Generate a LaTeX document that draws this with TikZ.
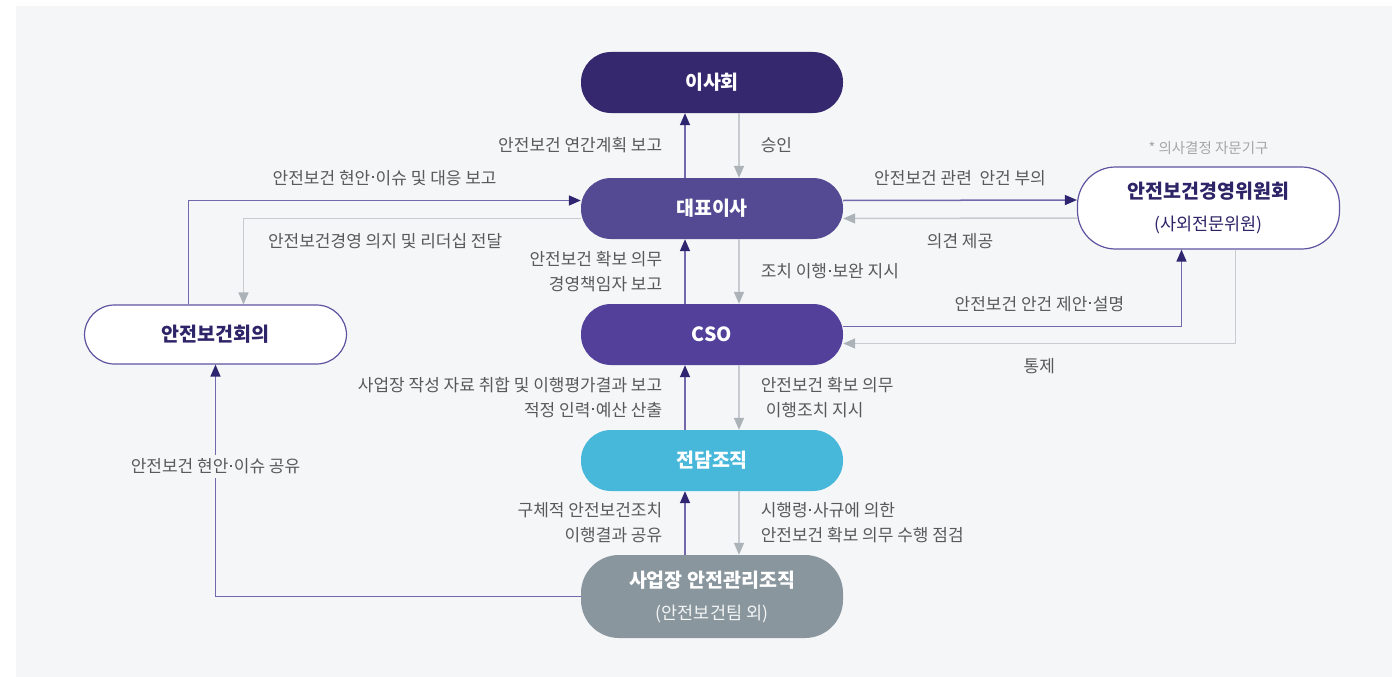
\documentclass[tikz,border=0pt]{standalone}
\usepackage{fontspec}
\setmainfont{Noto Sans CJK KR}
\usetikzlibrary{arrows.meta, positioning, calc}
\definecolor{panelgray}{HTML}{F5F6F8}
\definecolor{boardc}{HTML}{35286F}
\definecolor{ceoc}{HTML}{534A93}
\definecolor{csoc}{HTML}{52409A}
\definecolor{teamc}{HTML}{47B8DA}
\definecolor{sitec}{HTML}{8A969E}
\definecolor{linepurple}{HTML}{7468AD}
\definecolor{headpurple}{HTML}{2E2570}
\definecolor{linegray}{HTML}{C6CCD1}
\definecolor{headgray}{HTML}{ABB3B9}
\definecolor{borderpurple}{HTML}{5F53A0}
\definecolor{titlepurple}{HTML}{2E2468}
\definecolor{labelgray}{HTML}{595959}
\definecolor{notegray}{HTML}{A6A6A6}
\newcommand{\subline}{\fontsize{17.5}{32}\selectfont\mdseries}
\newcommand{\md}{\kern0.1em\raisebox{0.36em}{\rule{0.12em}{0.12em}}\kern0.1em}

\begin{document}
\begin{tikzpicture}[x=1pt, y=-1pt,
    stage/.style={rectangle, rounded corners=30pt, minimum width=262pt,
                  minimum height=61pt, inner sep=0pt, align=center,
                  text=white, font=\fontsize{19.5}{32}\selectfont\bfseries},
    side/.style={stage, fill=white, draw=borderpurple, line width=1.2pt,
                 text=titlepurple},
    rep/.style={draw=linepurple, line width=1.5pt,
                -{Triangle[length=12pt, width=10pt, color=headpurple]}},
    ord/.style={draw=linegray, line width=1.5pt,
                -{Triangle[length=12pt, width=10pt, color=headgray]}},
    lbl/.style={font=\fontsize{17}{25}\selectfont, text=labelgray, inner sep=0pt}
]
\useasboundingbox (0,0) rectangle (1392,677);
\fill[white] (0,0) rectangle (1392,677);
\fill[panelgray] (16,6) rectangle (1392,677);

% main chain
\node[stage, fill=boardc] (board) at (712,82.5) {이사회};
\node[stage, fill=ceoc]   (ceo)   at (712,208.5) {대표이사};
\node[stage, fill=csoc]   (cso)   at (712,334.5) {CSO};
\node[stage, fill=teamc]  (team)  at (712,460.5) {전담조직};
\node[stage, fill=sitec, minimum height=83pt, rounded corners=38pt] (site) at (712,596.5)
     {사업장 안전관리조직\\{\subline\color{white!90!sitec}(안전보건팀 외)}};

% side bodies
\node[side, minimum height=82pt, rounded corners=38pt] (cmte) at (1208.5,208)
     {안전보건경영위원회\\{\subline(사외전문위원)}};
\node[side, minimum height=59pt] (mtg) at (215.5,334.5) {안전보건회의};
\node[lbl, text=notegray, font=\fontsize{14.5}{15}\selectfont] (cmtenote) [above=12pt of cmte] {* 의사결정 자문기구};

% reports (up)
\draw[rep] ([xshift=-27pt]ceo.north)  -- node[lbl, left=22pt] {안전보건 연간계획 보고} ([xshift=-27pt]board.south);
\draw[rep] ([xshift=-27pt]cso.north)  -- node[lbl, left=22pt, align=right] {안전보건 확보 의무\\경영책임자 보고} ([xshift=-27pt]ceo.south);
\draw[rep] ([xshift=-27pt]team.north) -- node[lbl, left=22pt, align=right] {사업장 작성 자료 취합 및 이행평가결과 보고\\적정 인력\md 예산 산출} ([xshift=-27pt]cso.south);
\draw[rep] ([xshift=-27pt]site.north) -- node[lbl, left=22pt, align=right] {구체적 안전보건조치\\이행결과 공유} ([xshift=-27pt]team.south);

% orders (down)
\draw[ord] ([xshift=27pt]board.south) -- node[lbl, right=21pt] {승인} ([xshift=27pt]ceo.north);
\draw[ord] ([xshift=27pt]ceo.south)   -- node[lbl, right=21pt] {조치 이행\md 보완 지시} ([xshift=27pt]cso.north);
\draw[ord] ([xshift=27pt]cso.south)   -- node[lbl, right=21pt, align=left] {안전보건 확보 의무\\\hspace*{0.3em}이행조치 지시} ([xshift=27pt]team.north);
\draw[ord] ([xshift=27pt]team.south)  -- node[lbl, right=21pt, align=left] {시행령\md 사규에 의한\\안전보건 확보 의무 수행 점검} ([xshift=27pt]site.north);

% committee
\draw[rep] ([yshift=8pt]ceo.east) -- node[lbl, above=14pt] {안전보건 관련 \ 안건 부의} ([yshift=8pt]cmte.west);
\draw[ord] ([yshift=-10pt]cmte.west) -- node[lbl, below=14pt] {의견 제공} ([yshift=-10pt]ceo.east);
\draw[rep] ([yshift=8pt]cso.east) -| node[lbl, pos=0.29, above=14pt] {안전보건 안건 제안\md 설명} ([xshift=-27pt]cmte.south);
\draw[ord] ([xshift=27pt]cmte.south) |- node[lbl, pos=0.75, below=14pt] {통제} ([yshift=-9pt]cso.east);

% safety meeting
\draw[rep] ([xshift=-27pt]mtg.north) |- node[lbl, pos=0.75, above=14pt] {안전보건 현안\md 이슈 및 대응 보고} ([yshift=8pt]ceo.west);
\draw[ord] ([yshift=-10pt]ceo.west) -| node[lbl, pos=0.29, below=14pt] {안전보건경영 의지 및 리더십 전달} ([xshift=28pt]mtg.north);
\draw[rep] (site.west) -| node[lbl, pos=0.78, fill=panelgray, inner ysep=4pt] {안전보건 현안\md 이슈 공유} (mtg.south);

\end{tikzpicture}
\end{document}
